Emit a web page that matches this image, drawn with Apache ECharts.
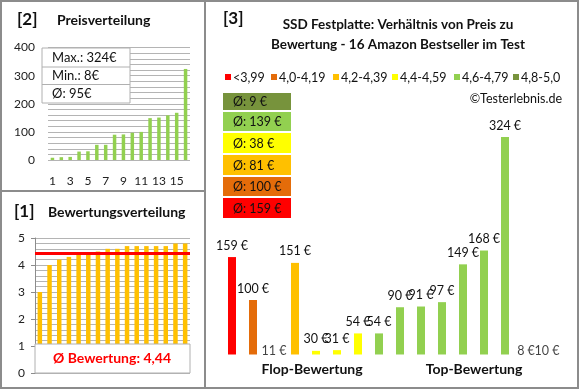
<!DOCTYPE html>
<html><head><meta charset="utf-8">
<script src="https://cdn.jsdelivr.net/npm/echarts@6/dist/echarts.min.js"></script>
<style>html,body{margin:0;padding:0;background:#fff}#c{width:580px;height:390px}</style>
</head><body><div id="c"></div>
<script>
// ---------- data ----------
// products in order of rating (right chart)
const productPrices  = [159, 100, 11, 151, 30, 31, 54, 54, 90, 91, 97, 149, 168, 324, 8, 10];
const productRatings = [3.0, 4.0, 4.2, 4.3, 4.4, 4.4, 4.5, 4.6, 4.6, 4.7, 4.7, 4.7, 4.7, 4.7, 4.8, 4.8];
// price distribution (top-left), ascending
const sortedPrices   = [8, 10, 11, 30, 31, 54, 54, 90, 91, 97, 100, 149, 151, 159, 168, 324];
const positionLabels = ['1','2','3','4','5','6','7','8','9','10','11','12','13','14','15','16'];
const bandNames  = ['<3,99', '4,0-4,19', '4,2-4,39', '4,4-4,59', '4,6-4,79', '4,8-5,0'];
const bandLower  = [0, 4.0, 4.2, 4.4, 4.6, 4.8];
const bandColors = ['#FF0000', '#E46C0A', '#FFC000', '#FFFF00', '#92D050', '#77933C'];
const priceTicks  = [0, 100, 200, 300, 400];
const ratingTicks = [0, 1, 2, 3, 4, 5];
const groupLabels = ['Flop-Bewertung', 'Top-Bewertung'];
const titleLines  = ['SSD Festplatte: Verhältnis von Preis zu', 'Bewertung - 16 Amazon Bestseller im Test'];

// ---------- derived ----------
const FONT = "Lato, 'Noto Sans', sans-serif";
const bandOf = r => { let b = 0; bandLower.forEach((l, i) => { if (r >= l - 1e-9) b = i; }); return b; };
const productBands = productRatings.map(bandOf);
const avg = a => a.reduce((s, v) => s + v, 0) / a.length;
const avgRating = avg(productRatings);
const avgPrice = avg(sortedPrices);
const bandAvg = bandNames.map((_, b) => {
  const ps = productPrices.filter((_, i) => productBands[i] === b);
  return ps.length ? Math.round(avg(ps)) : 0;
});
const priceAxisMin = 25, priceAxisMax = 350;

const chart = echarts.init(document.getElementById('c'), null, {renderer: 'canvas'});

const gridLine = '#b4b4b4';
const axisLabelStyle = {color: '#222', fontSize: 12, fontFamily: FONT};

const graphics = [];
// panel borders
graphics.push({type: 'rect', shape: {x: 1, y: 1, width: 577, height: 387}, style: {fill: 'none', stroke: '#8c8c8c', lineWidth: 2}, z: 50});
graphics.push({type: 'line', shape: {x1: 205, y1: 1, x2: 205, y2: 388}, style: {stroke: '#8c8c8c', lineWidth: 2}, z: 50});
graphics.push({type: 'line', shape: {x1: 1, y1: 191, x2: 205, y2: 191}, style: {stroke: '#8c8c8c', lineWidth: 2}, z: 50});
const txt = (text, x, y, size, opts = {}) => ({
  type: 'text', z: 60,
  style: Object.assign({text, x, y, fill: '#111', font: `${opts.bold ? 'bold ' : ''}${size}px ${FONT}`, align: 'left', verticalAlign: 'middle'}, opts.style || {})
});
// panel titles
graphics.push(txt('[2]', 17, 20, 17, {bold: true}));
graphics.push(txt('Preisverteilung', 57, 20, 14, {bold: true}));
graphics.push(txt('[1]', 14, 212, 17, {bold: true}));
graphics.push(txt('Bewertungsverteilung', 48, 212, 14, {bold: true}));
graphics.push(txt('[3]', 223, 19, 17, {bold: true}));
titleLines.forEach((t, i) => graphics.push(txt(t, 398, 25 + i * 20, 13.5, {bold: true, style: {align: 'center'}})));
// legend
const legendX = [225, 271, 333, 392, 454, 513];
bandNames.forEach((n, i) => {
  graphics.push({type: 'rect', z: 60, shape: {x: legendX[i], y: 74, width: 6, height: 6}, style: {fill: bandColors[i]}});
  graphics.push(txt(n, legendX[i] + 8, 77.5, 12.5));
});
graphics.push(txt('©Testerlebnis.de', 562, 99, 12.5, {style: {align: 'right'}}));
// band average boxes (highest band on top)
const boxTop = [93, 112, 133, 155, 177, 198];
const boxH = [17, 19, 20, 20, 19, 20];
for (let k = 0; k < bandNames.length; k++) {
  const b = bandNames.length - 1 - k;
  graphics.push({type: 'rect', z: 60, shape: {x: 223, y: boxTop[k], width: 68, height: boxH[k]}, style: {fill: bandColors[b]}});
  graphics.push(txt('Ø: ' + bandAvg[b] + ' €', 233, boxTop[k] + boxH[k] / 2 + 0.5, 12.5));
}
// group labels
graphics.push(txt(groupLabels[0], 312, 369, 14, {bold: true, style: {align: 'center'}}));
graphics.push(txt(groupLabels[1], 474, 369, 14, {bold: true, style: {align: 'center'}}));
// price stats box
graphics.push({type: 'rect', z: 60, shape: {x: 42, y: 48, width: 88, height: 55}, style: {fill: '#fff', stroke: '#b0b0b0', lineWidth: 1}});
graphics.push({type: 'line', z: 61, shape: {x1: 42, y1: 67, x2: 130, y2: 67}, style: {stroke: '#b0b0b0', lineWidth: 1}});
graphics.push({type: 'line', z: 61, shape: {x1: 42, y1: 84.5, x2: 130, y2: 84.5}, style: {stroke: '#b0b0b0', lineWidth: 1}});
graphics.push(txt('Max.: ' + Math.max(...sortedPrices) + '€', 52, 58, 13));
graphics.push(txt('Min.: ' + Math.min(...sortedPrices) + '€', 52, 76, 13));
graphics.push(txt('Ø: ' + Math.round(avgPrice) + '€', 52, 94, 13));
// rating box
graphics.push({type: 'rect', z: 60, shape: {x: 35, y: 344, width: 155, height: 29}, style: {fill: '#fff', stroke: '#b0b0b0', lineWidth: 1}});
graphics.push(txt('Ø Bewertung: ' + avgRating.toFixed(2).replace('.', ','), 112, 358.5, 14, {bold: true, style: {align: 'center', fill: '#FF0000'}}));

const option = {
  animation: false,
  backgroundColor: '#fff',
  grid: [
    {left: 48, top: 47.6, width: 142, height: 112.4},
    {left: 35, top: 238, width: 155, height: 135},
    {left: 221.5, top: 118.2, width: 336, height: 236.3}
  ],
  xAxis: [
    {gridIndex: 0, type: 'category', data: positionLabels, axisLine: {show: false}, axisTick: {show: false},
     axisLabel: Object.assign({interval: 1, margin: 15}, axisLabelStyle)},
    {gridIndex: 1, type: 'category', data: positionLabels, show: false},
    {gridIndex: 2, type: 'category', data: positionLabels, show: false}
  ],
  yAxis: [
    {gridIndex: 0, type: 'value', min: priceTicks[0], max: priceTicks[priceTicks.length - 1], interval: priceTicks[1] - priceTicks[0],
     axisLine: {show: false}, axisTick: {show: false}, axisLabel: Object.assign({margin: 13}, axisLabelStyle),
     splitLine: {lineStyle: {color: gridLine, width: 1}}, minorTick: {show: false, splitNumber: 5},
     minorSplitLine: {show: true, lineStyle: {color: gridLine, width: 1}}},
    {gridIndex: 1, type: 'value', min: ratingTicks[0], max: ratingTicks[ratingTicks.length - 1], interval: ratingTicks[1] - ratingTicks[0],
     axisLine: {show: true, lineStyle: {color: '#8c8c8c'}}, axisTick: {show: true, length: 4, lineStyle: {color: '#8c8c8c'}},
     axisLabel: Object.assign({margin: 10}, axisLabelStyle),
     splitLine: {lineStyle: {color: gridLine, width: 1}}, minorTick: {show: false, splitNumber: 5},
     minorSplitLine: {show: true, lineStyle: {color: gridLine, width: 1}}},
    {gridIndex: 2, type: 'value', min: priceAxisMin, max: priceAxisMax, show: false, splitLine: {show: false}}
  ],
  series: [
    {type: 'bar', xAxisIndex: 0, yAxisIndex: 0, data: sortedPrices, barWidth: 3.5, itemStyle: {color: '#92D050'}, silent: true},
    {type: 'bar', xAxisIndex: 1, yAxisIndex: 1, data: productRatings, barWidth: 4.5, itemStyle: {color: '#FFC000'}, silent: true,
     markLine: {silent: true, symbol: ['none', 'none'], label: {show: false}, lineStyle: {color: '#FF0000', width: 3, type: 'solid'},
       data: [{yAxis: avgRating}]}},
    {type: 'bar', xAxisIndex: 2, yAxisIndex: 2, barWidth: 8, clip: true, silent: true,
     data: productPrices.map((p, i) => ({value: p, itemStyle: {color: bandColors[productBands[i]]}})),
     label: {show: true, position: 'top', distance: 5, formatter: '{c} €', color: '#111', fontSize: 12.5, fontFamily: FONT}},
    // labels for prices that fall below the visible axis range
    {type: 'scatter', xAxisIndex: 2, yAxisIndex: 2, symbolSize: 1, itemStyle: {color: 'rgba(0,0,0,0)'}, silent: true,
     data: productPrices.map(p => p < priceAxisMin ? priceAxisMin : '-'),
     label: {show: true, position: 'inside', offset: [0, -4], color: '#111', fontSize: 12.5, fontFamily: FONT,
       formatter: p => productPrices[p.dataIndex] + ' €'}}
  ],
  graphic: graphics
};
chart.setOption(option);
</script>
</body></html>
